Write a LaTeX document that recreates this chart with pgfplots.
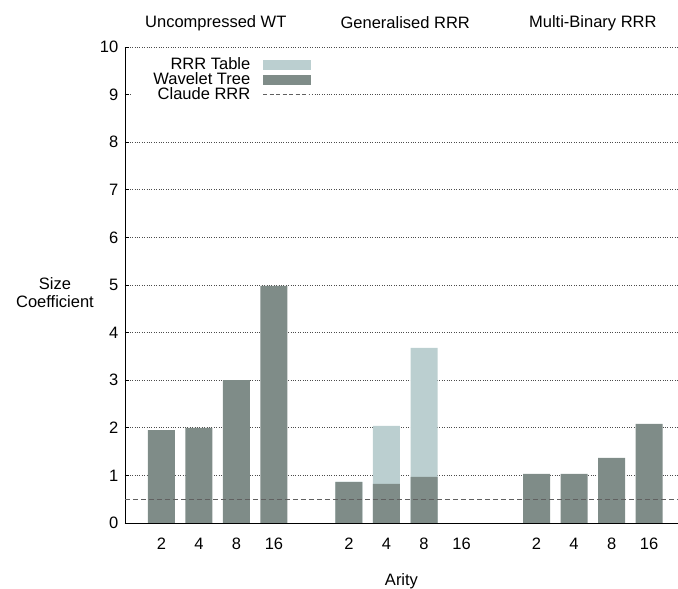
\documentclass[border=0pt]{standalone}
\usepackage{pgfplots}
\pgfplotsset{compat=1.18}
\usepackage{fontspec}
\setmainfont{Liberation Sans}
\definecolor{rrr}{HTML}{BBCFD0}
\definecolor{wt}{HTML}{7F8C88}
\definecolor{dashcol}{HTML}{606060}
\newcommand{\ff}{\fontsize{16.5}{18}\selectfont}
\begin{document}
\ff
\begin{tikzpicture}
\useasboundingbox (-125pt,-66pt) rectangle (553pt,523pt);
\begin{axis}[
  at={(0pt,0pt)}, anchor=south west,
  scale only axis, width=553pt, height=476pt,
  xmin=-0.97, xmax=13.77, ymin=0, ymax=10,
  axis x line*=bottom, axis y line*=left,
  axis line style={-, black, line width=0.8pt},
  ytick={0,1,...,10},
  xtick={0,1,2,3,5,6,7,8,10,11,12,13},
  xticklabels={2,4,8,16,2,4,8,16,2,4,8,16},
  xtick style={draw=none},
  ytick style={black, line width=0.6pt},
  tick align=inside, major tick length=4pt,
  ymajorgrids, grid style={dotted, black!70, line width=0.6pt},
  /pgf/number format/assume math mode=true,
  tick label style={font=\ff},
  xticklabel style={yshift=-9pt},
  yticklabel style={xshift=-1pt},
  xlabel={Arity}, xlabel style={font=\ff, yshift=-13pt},
  clip=false,
  legend style={draw=none, fill=none, inner sep=0pt, at={(rel axis cs:0.336,0.982)}, anchor=north east,
    font=\ff, row sep=-2.5pt, column sep=11pt, nodes={inner sep=1.5pt}},
  legend cell align=right, legend plot pos=right,
]
\addlegendimage{legend image code/.code={\fill[rrr] (0pt,-4.5pt) rectangle (47pt,4.5pt);}}
\addlegendentry{RRR Table}
\addlegendimage{legend image code/.code={\fill[wt] (0pt,-4.5pt) rectangle (47pt,4.5pt);}}
\addlegendentry{Wavelet Tree}
\addlegendimage{legend image code/.code={\draw[dashcol, dash pattern=on 4pt off 2.5pt, line width=0.8pt] (0pt,0pt) -- (47pt,0pt);}}
\addlegendentry{Claude RRR}

% white background behind the legend (hides the grid line there)
\fill[white] (rel axis cs:0.012,0.885) rectangle (rel axis cs:0.336,0.975);

% RRR table (drawn as total height, wavelet tree drawn over it)
\addplot[ybar, bar width=27pt, fill=rrr, draw=none, forget plot] coordinates {(5,0.87) (6,2.04) (7,3.68)};
% Wavelet tree
\addplot[ybar, bar width=27pt, fill=wt, draw=none, forget plot] coordinates {
  (0,1.95) (1,2.00) (2,3.00) (3,4.98)
  (5,0.86) (6,0.82) (7,0.97)
  (10,1.03) (11,1.03) (12,1.37) (13,2.08)};
% Claude RRR
\addplot[dashcol, dash pattern=on 5pt off 3pt, line width=0.9pt, forget plot] coordinates {(-0.97,0.5) (13.77,0.5)};

\node[font=\ff, yshift=24pt] at (axis cs:1.45,10) {Uncompressed WT};
\node[font=\ff, yshift=24pt] at (axis cs:6.5,10) {Generalised RRR};
\node[font=\ff, yshift=24pt] at (axis cs:11.5,10) {Multi-Binary RRR};
\node[align=center, font=\ff, inner sep=0pt] at (rel axis cs:-0.1266,0.485) {Size\\Coefficient};
\end{axis}
\end{tikzpicture}
\end{document}
